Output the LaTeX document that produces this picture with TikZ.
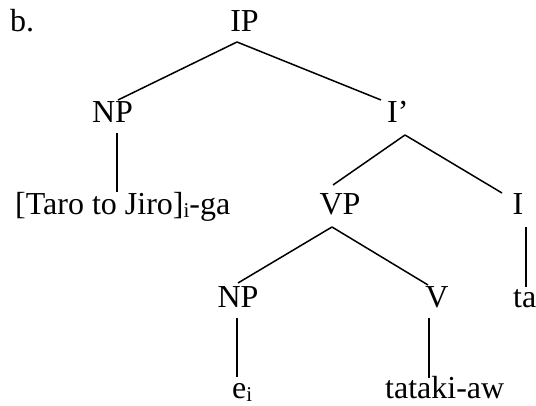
\documentclass[tikz,border=0pt]{standalone}
\usepackage{fontspec}
\setmainfont{Liberation Serif}
\newcommand{\lowidx}[1]{\raisebox{-0.08em}{\fontsize{21}{21}\selectfont #1}}
\begin{document}
\begin{tikzpicture}[x=1pt,y=1pt,
  lab/.style={inner sep=0pt,font=\fontsize{32}{32}\selectfont},
  edge/.style={line width=1.5pt}]
\useasboundingbox (0,0) rectangle (536,406);
\node[lab,anchor=base west] (b) at (10,374) {b.};
\node[lab,anchor=base] (IP) at (244.5,374) {IP};
\node[lab,anchor=base] (NP1) at (112.5,283) {NP};
\node[lab,anchor=base west] (Ibar) at (387,283) {I’};
\node[lab,anchor=base west] (taro) at (15,191) {[Taro to Jiro]\lowidx{i}-ga};
\node[lab,anchor=base] (VP) at (340,191) {VP};
\node[lab,anchor=base] (I) at (518,191) {I};
\node[lab,anchor=base] (NP2) at (238,98) {NP};
\node[lab,anchor=base] (V) at (437,98) {V};
\node[lab,anchor=base west] (ta) at (513,98) {ta};
\node[lab,anchor=base west] (e) at (232,7) {e\lowidx{i}};
\node[lab,anchor=base west] (tataki) at (385,7) {tataki-aw};
% connectors
\draw[edge] ([xshift=-7.5pt,yshift=-10pt]IP.base) -- ([xshift=5.5pt,yshift=23pt]NP1.base);
\draw[edge] ([xshift=-7.5pt,yshift=-10pt]IP.base) -- ([xshift=-6pt,yshift=23pt]Ibar.base west);
\draw[edge] ([xshift=4.5pt,yshift=-10pt]NP1.base) -- ([xshift=102pt,yshift=23pt]taro.base west);
\draw[edge] ([xshift=18pt,yshift=-12pt]Ibar.base west) -- ([xshift=-7pt,yshift=30pt]VP.base);
\draw[edge] ([xshift=18pt,yshift=-12pt]Ibar.base west) -- ([xshift=-16pt,yshift=22pt]I.base);
\draw[edge] ([xshift=-8pt,yshift=-12pt]VP.base) -- ([xshift=0pt,yshift=25pt]NP2.base);
\draw[edge] ([xshift=-8pt,yshift=-12pt]VP.base) -- ([xshift=-9pt,yshift=23pt]V.base);
\draw[edge] ([xshift=-1pt,yshift=-10pt]NP2.base) -- ([xshift=5pt,yshift=22pt]e.base west);
\draw[edge] ([xshift=-8pt,yshift=-10pt]V.base) -- ([xshift=44pt,yshift=21pt]tataki.base west);
\draw[edge] ([xshift=8pt,yshift=-12pt]I.base) -- ([xshift=13pt,yshift=21pt]ta.base west);
\end{tikzpicture}
\end{document}
